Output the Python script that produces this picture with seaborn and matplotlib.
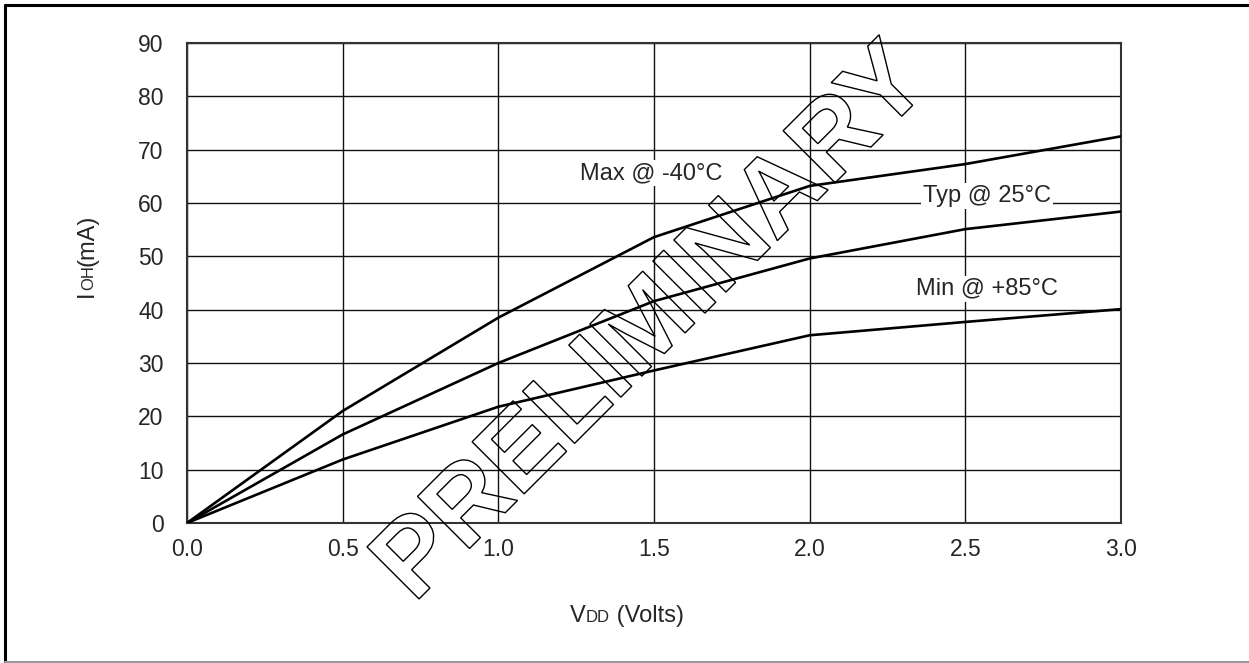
import numpy as np
import pandas as pd
import seaborn as sns
import matplotlib
matplotlib.use("Agg")
import matplotlib.pyplot as plt
from matplotlib.textpath import TextPath
from matplotlib.patches import PathPatch
from matplotlib.font_manager import FontProperties
from matplotlib.transforms import Affine2D
from matplotlib.lines import Line2D

# ---- data ----
vdd = [0.0, 0.5, 1.0, 1.5, 2.0, 2.5, 3.0]
ioh_max = [0.0, 21.0, 38.5, 53.6, 63.2, 67.3, 72.5]
ioh_typ = [0.0, 16.6, 30.0, 41.6, 49.6, 55.1, 58.4]
ioh_min = [0.0, 11.9, 21.8, 28.6, 35.2, 37.7, 40.1]
series_names = ["Max @ -40°C", "Typ @ 25°C", "Min @ +85°C"]
x_ticks = [0.0, 0.5, 1.0, 1.5, 2.0, 2.5, 3.0]
y_ticks = [0, 10, 20, 30, 40, 50, 60, 70, 80, 90]
label_pos = {"Max @ -40°C": (1.49, 65.6), "Typ @ 25°C": (2.57, 61.3), "Min @ +85°C": (2.57, 43.9)}

df = pd.DataFrame({
    "V": vdd * 3,
    "I": ioh_max + ioh_typ + ioh_min,
    "series": [series_names[0]] * 7 + [series_names[1]] * 7 + [series_names[2]] * 7,
})

sns.set_theme(style="white")
plt.rcParams["font.family"] = ["Liberation Sans", "DejaVu Sans"]

W, H = 1249, 663
fig = plt.figure(figsize=(W / 100, H / 100), dpi=100)
ax = fig.add_axes([187 / W, (H - 523) / H, (1121 - 187) / W, 480 / H])

sns.lineplot(data=df, x="V", y="I", hue="series", palette=["black"] * 3,
             legend=False, linewidth=1.9, ax=ax, zorder=5, sort=False)

ax.set_xlim(0, 3.0)
ax.set_ylim(0, 90)
ax.set_xticks(x_ticks)
ax.set_xticklabels([f"{v:.1f}" for v in x_ticks], fontsize=16.5)
ax.set_yticks(y_ticks)
ax.set_yticklabels([str(v) for v in y_ticks], fontsize=16.5)
ax.tick_params(axis="y", length=0, pad=17)
ax.tick_params(axis="x", length=0, pad=11)
ax.grid(True, color="#111111", linewidth=1.0)
ax.set_axisbelow(True)
for s in ax.spines.values():
    s.set_color("#333333")
    s.set_linewidth(1.5)
ax.set_xlabel("")
ax.set_ylabel("")

for name in series_names:
    x, y = label_pos[name]
    ax.text(x, y, name, fontsize=17, ha="center", va="center", zorder=4,
            bbox=dict(facecolor="white", edgecolor="none", pad=1.5))

# x axis label: V(DD small) (Volts)
t1 = fig.text(570 / W, (H - 622) / H, "V", fontsize=17, ha="left", va="baseline")
t2 = ax.annotate("DD", xy=(1, 0), xycoords=t1, xytext=(0, 1.1), textcoords="offset points",
                 fontsize=12, ha="left", va="bottom")
t3 = ax.annotate(" (Volts)", xy=(1, 0), xycoords=t2, xytext=(0, -1.1), textcoords="offset points",
                 fontsize=17, ha="left", va="bottom")

# y axis label: I(OH small)(mA)
y1 = fig.text(93 / W, (H - 297) / H, "I", fontsize=17, rotation=90,
              rotation_mode="anchor", ha="left", va="baseline")
y2 = ax.annotate("OH", xy=(1, 1), xycoords=y1, xytext=(-1.1, 0), textcoords="offset points",
                 fontsize=12, rotation=90, rotation_mode="anchor", ha="left", va="bottom")
y3 = ax.annotate("(mA)", xy=(1, 1), xycoords=y2, xytext=(1.1, 0), textcoords="offset points",
                 fontsize=17, rotation=90, rotation_mode="anchor", ha="left", va="bottom")

# PRELIMINARY watermark (outline only)
tp = TextPath((0, 0), "PRELIMINARY", size=107,
              prop=FontProperties(family="Liberation Sans", weight="bold"))
tr = Affine2D().scale(1 / 100).rotate_deg(45).translate(414 / 100, (H - 604) / 100) + fig.dpi_scale_trans
wm = PathPatch(tp, facecolor="none", edgecolor="black", linewidth=1.0, transform=tr, zorder=6)
fig.add_artist(wm)

# outer frame
fig.add_artist(Line2D([5 / W, 1.0], [(H - 5) / H, (H - 5) / H], color="black", linewidth=2.2, transform=fig.transFigure))
fig.add_artist(Line2D([5 / W, 5 / W], [(H - 5) / H, 1.5 / H], color="black", linewidth=2.2, transform=fig.transFigure))
fig.add_artist(Line2D([5 / W, 1.0], [1.2 / H, 1.2 / H], color="#999999", linewidth=1.5, transform=fig.transFigure))

fig.savefig("out.png", dpi=100, facecolor="white")
